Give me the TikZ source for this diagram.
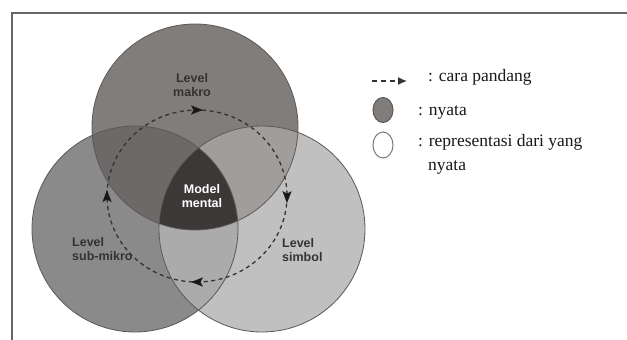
\documentclass[tikz,border=0pt]{standalone}
\usepackage{fontspec}
\setmainfont{Liberation Serif}
\newfontfamily\lsans{Liberation Sans}
\usetikzlibrary{arrows.meta,decorations.markings,shapes.geometric}
\definecolor{ctop}{HTML}{817D7B}
\definecolor{cleft}{HTML}{8B8A8A}
\definecolor{cright}{HTML}{C0C0C0}
\definecolor{ctl}{HTML}{6D6968}
\definecolor{ctr}{HTML}{A09D9B}
\definecolor{clr}{HTML}{ACABAB}
\definecolor{call}{HTML}{3D3838}
\definecolor{cline}{HTML}{5A5858}
\definecolor{cdash}{HTML}{333333}
\definecolor{ctext}{HTML}{333333}
\definecolor{cframe}{HTML}{666666}
\begin{document}
\begin{tikzpicture}[x=1pt,y=-1pt,
  circline/.style={draw=cline, line width=0.8pt},
  lvltext/.style={font=\lsans\bfseries\fontsize{12.5}{14}\selectfont, text=ctext, inner sep=0pt},
  legtext/.style={font=\fontsize{17.5}{24}\selectfont, text=black!90, inner sep=0pt, anchor=west},
  cycle/.style={draw=cdash, line width=1.3pt, dash pattern=on 4pt off 3.5pt},
  tiphead/.style={fill=black!90, draw=none}
]
\useasboundingbox (0,0) rectangle (627,340);
\fill[white] (0,0) rectangle (627,340);
% frame
\draw[cframe, line width=1.3pt] (627,13) -- (12,13) -- (12,340);

% circle centres
\coordinate (T) at (195,127);
\coordinate (L) at (135,229);
\coordinate (R) at (262,229);
\def\rad{103pt}

% base fills
\fill[ctop] (T) circle[radius=\rad];
\fill[cleft] (L) circle[radius=\rad];
\fill[cright] (R) circle[radius=\rad];
% pairwise overlaps
\begin{scope}
  \clip (T) circle[radius=\rad];
  \fill[ctl] (L) circle[radius=\rad];
\end{scope}
\begin{scope}
  \clip (T) circle[radius=\rad];
  \fill[ctr] (R) circle[radius=\rad];
\end{scope}
\begin{scope}
  \clip (L) circle[radius=\rad];
  \fill[clr] (R) circle[radius=\rad];
\end{scope}
\begin{scope}
  \clip (T) circle[radius=\rad];
  \clip (L) circle[radius=\rad];
  \fill[call] (R) circle[radius=\rad];
\end{scope}
% outlines
\draw[circline] (T) circle[radius=\rad];
\draw[circline] (L) circle[radius=\rad];
\draw[circline] (R) circle[radius=\rad];

% dashed cycle
\def\headshape{\fill[tiphead] (6pt,0pt) -- (-6pt,4.6pt) -- (-3.5pt,0pt) -- (-6pt,-4.6pt) -- cycle;}
\coordinate (C) at (197,196);
\draw[cycle, postaction={decorate}, decoration={markings,
    mark=at position 0.002 with {\headshape},
    mark=at position 0.25 with {\headshape},
    mark=at position 0.5 with {\headshape},
    mark=at position 0.75 with {\headshape}}]
  (C) ellipse[x radius=90, y radius=86];

% labels
\node[lvltext, align=center] (makro) at (192,85) {Level\\makro};
\node[lvltext, align=center, text=white] (mental) at (202,196) {Model\\mental};
\node[lvltext, align=left, anchor=west] (submikro) at (72,249) {Level\\sub-mikro};
\node[lvltext, align=left, anchor=west] (simbol) at (282,250) {Level\\simbol};

% legend
\coordinate (la) at (372,81);
\coordinate (lb) at (407,81);
\draw[cdash, line width=1.3pt, dash pattern=on 5pt off 4pt, -{Latex[length=9pt,width=8pt]}] (la) -- (lb);
\node[legtext] (lcara) at (428,77) {: cara pandang};
\node[ellipse, draw=cline, line width=1pt, fill=ctop, minimum width=20pt, minimum height=25pt, inner sep=0pt] (lnyata) at (383,110) {};
\node[legtext] (tnyata) at (418,112) {: nyata};
\node[ellipse, draw=cline!80, line width=1pt, fill=white, minimum width=20pt, minimum height=26pt, inner sep=0pt] (lrep) at (383,145) {};
\node[legtext] (trep) at (418,142) {: representasi dari yang};
\node[legtext] (trep2) at (428,167) {nyata};
\end{tikzpicture}
\end{document}
